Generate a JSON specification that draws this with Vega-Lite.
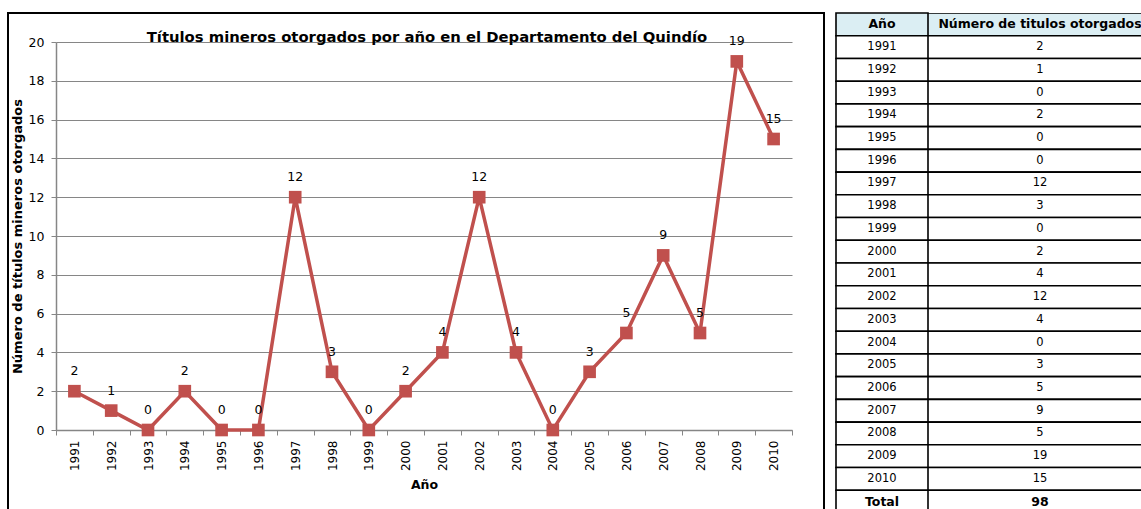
{
  "$schema": "https://vega.github.io/schema/vega-lite/v6.json",
  "padding": {"left": 1, "top": 12, "right": 0, "bottom": 0},
  "background": "white",
  "config": {"view": {"stroke": null}, "font": "DejaVu Sans"},
  "bounds": "flush",
  "spacing": 12,
  "datasets": {
    "serie": [
      {"año": "1991", "n": 2}, {"año": "1992", "n": 1}, {"año": "1993", "n": 0}, {"año": "1994", "n": 2},
      {"año": "1995", "n": 0}, {"año": "1996", "n": 0}, {"año": "1997", "n": 12}, {"año": "1998", "n": 3},
      {"año": "1999", "n": 0}, {"año": "2000", "n": 2}, {"año": "2001", "n": 4}, {"año": "2002", "n": 12},
      {"año": "2003", "n": 4}, {"año": "2004", "n": 0}, {"año": "2005", "n": 3}, {"año": "2006", "n": 5},
      {"año": "2007", "n": 9}, {"año": "2008", "n": 5}, {"año": "2009", "n": 19}, {"año": "2010", "n": 15}
    ],
    "tabla": [
      {"fila": "Año", "valor": "Número de titulos otorgados", "tipo": "encabezado"},
      {"fila": "1991", "valor": "2", "tipo": "dato"},
      {"fila": "1992", "valor": "1", "tipo": "dato"},
      {"fila": "1993", "valor": "0", "tipo": "dato"},
      {"fila": "1994", "valor": "2", "tipo": "dato"},
      {"fila": "1995", "valor": "0", "tipo": "dato"},
      {"fila": "1996", "valor": "0", "tipo": "dato"},
      {"fila": "1997", "valor": "12", "tipo": "dato"},
      {"fila": "1998", "valor": "3", "tipo": "dato"},
      {"fila": "1999", "valor": "0", "tipo": "dato"},
      {"fila": "2000", "valor": "2", "tipo": "dato"},
      {"fila": "2001", "valor": "4", "tipo": "dato"},
      {"fila": "2002", "valor": "12", "tipo": "dato"},
      {"fila": "2003", "valor": "4", "tipo": "dato"},
      {"fila": "2004", "valor": "0", "tipo": "dato"},
      {"fila": "2005", "valor": "3", "tipo": "dato"},
      {"fila": "2006", "valor": "5", "tipo": "dato"},
      {"fila": "2007", "valor": "9", "tipo": "dato"},
      {"fila": "2008", "valor": "5", "tipo": "dato"},
      {"fila": "2009", "valor": "19", "tipo": "dato"},
      {"fila": "2010", "valor": "15", "tipo": "dato"},
      {"fila": "Total", "valor": "98", "tipo": "total"}
    ]
  },
  "hconcat": [
    {
      "width": 816,
      "height": 500,
      "view": {"stroke": "#000", "strokeWidth": 2},
      "data": {"name": "serie"},
      "title": {
        "text": "Títulos mineros otorgados por año en el Departamento del Quindío",
        "fontSize": 14.8, "fontWeight": "bold", "color": "#000",
        "anchor": "middle", "frame": "group", "baseline": "alphabetic", "offset": -44, "dx": 11
      },
      "encoding": {
        "x": {
          "field": "año", "type": "ordinal",
          "scale": {"type": "band", "range": [48, 784], "paddingInner": 0, "paddingOuter": 0},
          "axis": {
            "title": "Año", "titleFontSize": 12.5, "titleFontWeight": "bold", "titleColor": "#000", "titlePadding": 8,
            "labelAngle": -90, "labelFontSize": 12, "labelColor": "#000", "labelPadding": 5,
            "tickBand": "extent", "tickSize": 5, "tickColor": "#868686", "domainColor": "#868686", "domainWidth": 1.5,
            "grid": false, "offset": -83
          }
        },
        "y": {
          "field": "n", "type": "quantitative",
          "scale": {"domain": [0, 20], "range": [417, 29], "nice": false},
          "axis": {
            "title": "Número de títulos mineros otorgados", "titleFontSize": 13, "titleFontWeight": "bold", "titleColor": "#000", "titlePadding": 4,
            "values": [0, 2, 4, 6, 8, 10, 12, 14, 16, 18, 20],
            "labelFontSize": 12.5, "labelColor": "#000", "labelPadding": 7,
            "grid": true, "gridColor": "#868686", "gridWidth": 1,
            "tickSize": 5, "tickColor": "#868686", "domainColor": "#868686", "domainWidth": 1.5,
            "offset": -48
          }
        }
      },
      "layer": [
        {"mark": {"type": "line", "color": "#C0504D", "strokeWidth": 3.5}},
        {"mark": {"type": "point", "shape": "square", "filled": true, "size": 160, "color": "#C0504D", "opacity": 1}},
        {"mark": {"type": "text", "dy": -20, "fontSize": 12.5, "color": "#000", "baseline": "middle"}, "encoding": {"text": {"field": "n"}}}
      ]
    },
    {
      "bounds": "flush",
      "spacing": 0,
      "hconcat": [
        {
          "width": 92,
          "height": 500,
          "data": {"name": "tabla"},
          "encoding": {
            "y": {
              "field": "fila", "type": "nominal",
              "scale": {"domain": ["Año", "1991", "1992", "1993", "1994", "1995", "1996", "1997", "1998", "1999", "2000", "2001", "2002", "2003", "2004", "2005", "2006", "2007", "2008", "2009", "2010", "Total"], "paddingInner": 0, "paddingOuter": 0},
              "axis": null
            }
          },
          "layer": [
            {
              "mark": {"type": "rect", "stroke": "#000", "strokeWidth": 1.6},
              "encoding": {"color": {"condition": {"test": "datum.tipo === 'encabezado'", "value": "#DBEEF3"}, "value": "#ffffff"}}
            },
            {
              "transform": [{"filter": "datum.tipo === 'dato'"}],
              "mark": {"type": "text", "fontSize": 11.5, "color": "#000"},
              "encoding": {"text": {"field": "fila"}}
            },
            {
              "transform": [{"filter": "datum.tipo !== 'dato'"}],
              "mark": {"type": "text", "fontSize": 12.5, "fontWeight": "bold", "color": "#000"},
              "encoding": {"text": {"field": "fila"}}
            }
          ]
        },
        {
          "width": 214,
          "height": 500,
          "data": {"name": "tabla"},
          "encoding": {
            "y": {
              "field": "fila", "type": "nominal",
              "scale": {"domain": ["Año", "1991", "1992", "1993", "1994", "1995", "1996", "1997", "1998", "1999", "2000", "2001", "2002", "2003", "2004", "2005", "2006", "2007", "2008", "2009", "2010", "Total"], "paddingInner": 0, "paddingOuter": 0},
              "axis": null
            }
          },
          "layer": [
            {
              "mark": {"type": "rect", "stroke": "#000", "strokeWidth": 1.6, "clip": true},
              "encoding": {"color": {"condition": {"test": "datum.tipo === 'encabezado'", "value": "#DBEEF3"}, "value": "#ffffff"}}
            },
            {
              "transform": [{"filter": "datum.tipo === 'dato'"}],
              "mark": {"type": "text", "fontSize": 11.5, "color": "#000", "dx": 5, "clip": true},
              "encoding": {"text": {"field": "valor"}}
            },
            {
              "transform": [{"filter": "datum.tipo !== 'dato'"}],
              "mark": {"type": "text", "fontSize": 12.5, "fontWeight": "bold", "color": "#000", "dx": 5, "clip": true},
              "encoding": {"text": {"field": "valor"}}
            }
          ]
        }
      ]
    }
  ]
}
